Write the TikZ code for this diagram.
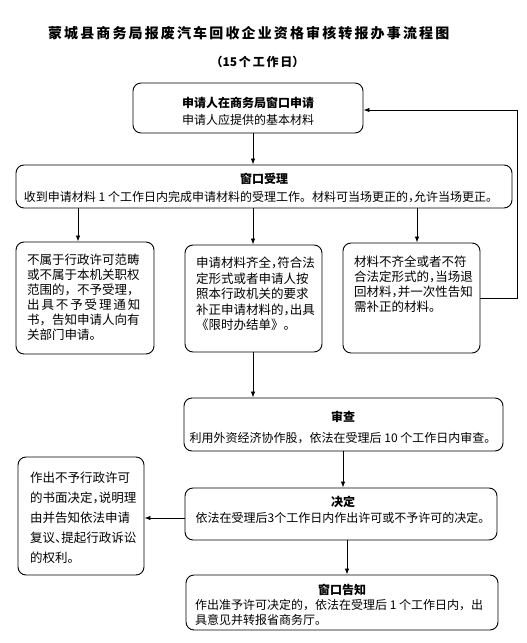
\documentclass[tikz,border=0pt]{standalone}
\usepackage{fontspec}
\setmainfont{Noto Sans CJK SC}
\usetikzlibrary{arrows.meta}
\newcommand\hcm{\makebox[0.5em][l]{，}}
\newcommand\hdn{\makebox[0.5em][l]{、}}
\begin{document}
\begin{tikzpicture}[x=1pt,y=-1pt,
  box/.style={draw, rounded corners=8pt, line width=0.9pt, inner sep=0pt},
  arr/.style={line width=0.8pt, -{Latex[length=6pt,width=4.5pt]}},
  txt/.style={inner sep=0pt, font=\fontsize{12}{15}\selectfont},
  side/.style={inner sep=0pt, align=left, anchor=west, font=\fontsize{12.5}{15}\selectfont},
  hd/.style={inner sep=0pt, font=\fontsize{12}{15}\selectfont\bfseries}]
\useasboundingbox (0,0) rectangle (527,643);
% title
\node[inner sep=0pt, font=\fontsize{14}{16}\selectfont\bfseries] (title) at (248,33)
  {\makebox[400pt][s]{蒙 城 县 商 务 局 报 废 汽 车 回 收 企 业 资 格 审 核 转 报 办 事 流 程 图}};
\node[inner sep=0pt, font=\fontsize{12}{14}\selectfont\bfseries] (sub) at (257,62)
  {\makebox[93pt][s]{（15 个 工 作 日）}};
% boxes
\node[box, minimum width=230pt, minimum height=50pt] (b1) at (248,108) {};
\node[box, minimum width=496pt, minimum height=43pt] (b2) at (264,186.5) {};
\node[box, minimum width=138pt, minimum height=112pt] (lb) at (85,298) {};
\node[box, minimum width=137pt, minimum height=107pt] (mb) at (253.5,298.5) {};
\node[box, minimum width=137pt, minimum height=110pt] (rb) at (411.5,298) {};
\node[box, minimum width=319pt, minimum height=53pt] (sc) at (343.5,424.5) {};
\node[box, minimum width=312pt, minimum height=52pt] (jd) at (341,514) {};
\node[box, minimum width=126pt, minimum height=118pt] (bl) at (81,516) {};
\node[box, minimum width=312pt, minimum height=55pt] (gz) at (342,602.5) {};
% texts
\node[hd] (t1a) at (248,103) {申请人在商务局窗口申请};
\node[txt] (t1b) at (248,120) {申请人应提供的基本材料};
\node[hd] (t2a) at (264,179) {窗口受理};
\node[txt] (t2b) at (261,197) {收到申请材料 1 个工作日内完成申请材料的受理工作。材料可当场更正的\hcm 允许当场更正。};
\node[side] (tl) at (27,297.5) {不属于行政许可范畴\\或不属于本机关职权\\范围的，不予受理，\\\makebox[112.5pt][s]{出 具 不 予 受 理 通 知}\\书，告知申请人向有\\关部门申请。};
\node[side, font=\fontsize{12.5}{15.5}\selectfont] (tm) at (196,294) {申请材料齐全\hcm 符合法\\定形式或者申请人按\\照本行政机关的要求\\补正申请材料的\hcm 出具\\《限时办结单》。};
\node[side] (tr) at (354,284.5) {材料不齐全或者不符\\合法定形式的\hcm 当场退\\回材料\hcm 并一次性告知\\需补正的材料。};
\node[hd] (t3a) at (343,417) {审查};
\node[txt] (t3b) at (343,438) {利用外资经济协作股，依法在受理后 10 个工作日内审查。};
\node[hd] (t4a) at (343,502) {决定};
\node[txt] (t4b) at (343,518) {依法在受理后3个工作日内作出许可或不予许可的决定。};
\node[side, font=\fontsize{12.5}{20}\selectfont] (tbl) at (30,518) {作出不予行政许可\\的书面决定\hcm 说明理\\由并告知依法申请\\复议\hdn 提起行政诉讼\\的权利。};
\node[hd] (t5a) at (342,590) {窗口告知};
\node[side, font=\fontsize{12}{15}\selectfont] (t5b) at (195,612.5) {作出准予许可决定的，依法在受理后 1 个工作日内，出\\具意见并转报省商务厅。};
% connectors
\coordinate (xa) at (253,0);
\coordinate (xl) at (78,0);
\coordinate (xr) at (417,0);
\coordinate (xs) at (343,0);
\coordinate (xg) at (347,0);
\coordinate (yd) at (0,518);
\coordinate (fbx) at (517,110);
\draw[arr] (b1.south -| xa) -- (b2.north -| xa);
\draw[arr] (b2.south -| xl) -- (lb.north -| xl);
\draw[arr] (b2.south -| xa) -- (mb.north -| xa);
\draw[arr] (b2.south -| xr) -- (rb.north -| xr);
\draw[arr] (mb.south -| xa) -- (sc.north -| xa);
\draw[arr] (sc.south -| xs) -- (jd.north -| xs);
\draw[arr] (jd.south -| xg) -- (gz.north -| xg);
\draw[arr] (jd.west |- yd) -- (bl.east |- yd);
\draw[arr] (rb.east) -| (fbx) -- (b1.east |- fbx);
\end{tikzpicture}
\end{document}
